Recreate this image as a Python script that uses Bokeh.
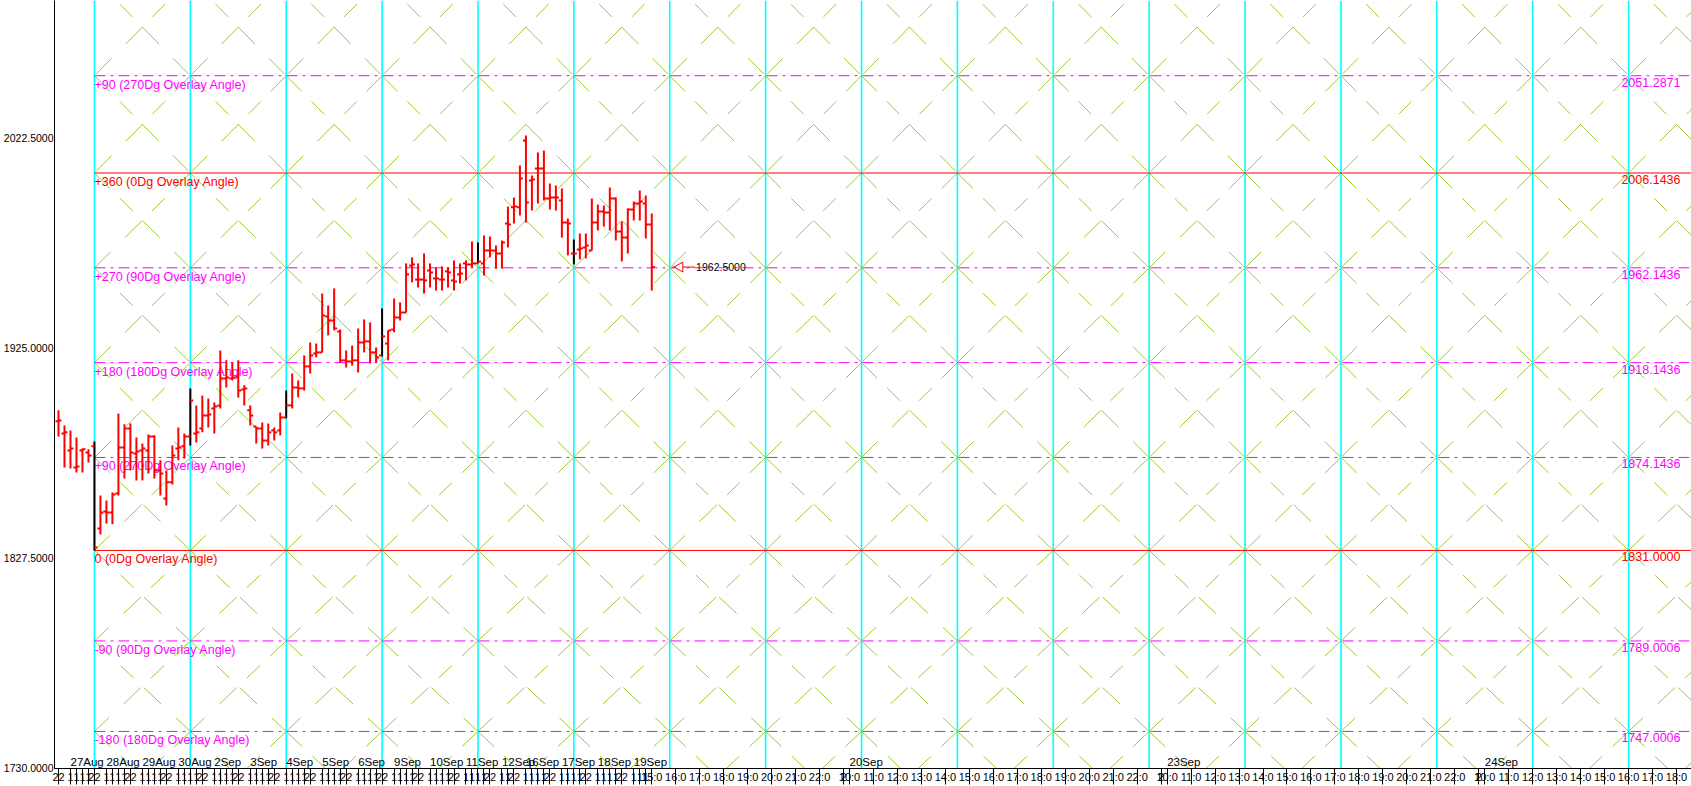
import numpy as np
from bokeh.plotting import figure
from bokeh.models import Range1d, FixedTicker, NumeralTickFormatter, AllLabels
from bokeh.core.properties import value
from bokeh.embed import file_html
from bokeh.resources import INLINE

# ---------------- data ----------------
day_labels = ["27Aug", "28Aug", "29Aug", "30Aug", "2Sep", "3Sep", "4Sep", "5Sep", "6Sep",
              "9Sep", "10Sep", "11Sep", "12Sep", "16Sep", "17Sep", "18Sep", "19Sep"]
bars_per_day = [6, 6, 6, 6, 6, 6, 6, 6, 6, 6, 6, 6, 4, 6, 6, 6, 6]
past_cell_labels = ["22", "1"]          # first (wide) cell, following narrow cells

bar_open = [1890.9, 1885.3, 1877.4, 1869.5, 1877.4, 1876.5, 1879.3, 1841.2, 1849.1, 1848.6,
            1857.4, 1878.8, 1887.6, 1876.0, 1877.4, 1877.4, 1883.9, 1868.1, 1855.1, 1862.6,
            1878.3, 1879.3, 1883.9, 1885.3, 1887.6, 1893.6, 1896.9, 1898.3, 1910.8, 1910.8,
            1911.7, 1905.7, 1896.0, 1888.5, 1887.6, 1882.0, 1886.7, 1886.7, 1892.7, 1898.3,
            1906.6, 1906.2, 1916.4, 1922.4, 1922.9, 1939.6, 1937.7, 1932.6, 1919.2, 1918.7,
            1919.2, 1927.5, 1928.0, 1922.9, 1921.5, 1927.0, 1933.5, 1939.1, 1941.4, 1963.2,
            1956.7, 1956.7, 1960.9, 1957.2, 1956.7, 1960.5, 1956.3, 1959.1, 1964.2, 1963.7,
            1964.2, 1964.2, 1970.2, 1970.2, 1968.8, 1982.7, 1990.2, 1990.2, 2021.2, 2002.7,
            2008.2, 2008.2, 1994.3, 1994.8, 1993.4, 1983.2, 1968.8, 1970.7, 1971.6, 1970.2,
            1983.2, 1988.3, 1987.8, 1994.3, 1979.0, 1976.2, 1989.2, 1992.0, 1992.0, 1982.3]
bar_high = [1896.0, 1889.0, 1886.7, 1883.4, 1878.3, 1877.9, 1881.6, 1856.5, 1854.2, 1857.9,
            1894.6, 1889.5, 1889.9, 1883.4, 1880.6, 1884.8, 1884.4, 1872.8, 1868.1, 1879.7,
            1888.1, 1885.3, 1906.2, 1898.3, 1902.9, 1901.5, 1899.7, 1923.8, 1919.2, 1918.2,
            1919.2, 1907.6, 1898.3, 1888.5, 1890.4, 1889.9, 1888.1, 1895.0, 1905.2, 1913.1,
            1909.9, 1921.5, 1927.5, 1927.0, 1950.2, 1944.7, 1952.6, 1933.5, 1923.8, 1926.1,
            1934.0, 1938.2, 1936.8, 1925.2, 1943.3, 1933.1, 1947.9, 1946.1, 1964.2, 1967.0,
            1964.2, 1968.8, 1964.2, 1962.3, 1962.8, 1962.3, 1965.6, 1964.2, 1965.6, 1974.4,
            1973.9, 1977.2, 1976.7, 1972.5, 1974.8, 1990.6, 1994.8, 2009.6, 2023.6, 2005.0,
            2015.7, 2016.6, 2001.3, 2000.4, 1999.0, 1985.0, 1975.3, 1978.1, 1978.1, 1994.3,
            1991.5, 1991.1, 1999.4, 1994.8, 1983.7, 1989.7, 1992.9, 1998.0, 1995.7, 1987.4]
bar_low = [1883.9, 1869.5, 1869.0, 1867.2, 1867.2, 1871.8, 1831.0, 1838.4, 1843.5, 1843.1,
           1856.5, 1864.4, 1868.1, 1863.5, 1863.5, 1866.7, 1864.4, 1856.5, 1851.9, 1861.6,
           1872.8, 1873.7, 1879.7, 1881.1, 1885.8, 1888.1, 1885.3, 1896.9, 1906.6, 1909.9,
           1902.0, 1898.3, 1889.0, 1880.6, 1878.3, 1879.7, 1882.0, 1884.4, 1892.3, 1896.9,
           1902.0, 1905.2, 1913.1, 1920.6, 1922.9, 1930.8, 1933.1, 1918.2, 1915.9, 1916.8,
           1913.6, 1922.9, 1917.8, 1918.2, 1921.0, 1919.2, 1932.2, 1937.7, 1941.4, 1955.4,
           1953.0, 1950.2, 1953.0, 1951.6, 1951.6, 1953.0, 1951.6, 1954.9, 1956.3, 1962.3,
           1964.2, 1958.6, 1967.0, 1961.8, 1961.8, 1971.6, 1982.7, 1986.4, 1983.2, 1988.8,
           1992.0, 1993.4, 1989.2, 1988.8, 1976.2, 1967.9, 1963.7, 1966.0, 1966.5, 1970.2,
           1979.5, 1981.3, 1979.5, 1974.8, 1965.1, 1968.8, 1984.1, 1984.1, 1975.8, 1951.6]
bar_close = [1891.3, 1885.8, 1878.3, 1870.0, 1877.9, 1875.1, 1832.4, 1848.6, 1848.6, 1857.0,
             1878.8, 1887.6, 1876.5, 1876.9, 1878.3, 1883.9, 1868.1, 1866.7, 1862.6, 1875.1,
             1878.8, 1883.9, 1900.6, 1885.8, 1893.6, 1894.1, 1897.8, 1910.8, 1911.3, 1911.3,
             1905.2, 1906.2, 1893.6, 1887.6, 1882.0, 1885.8, 1885.8, 1892.7, 1898.3, 1906.6,
             1906.2, 1916.4, 1921.5, 1922.9, 1940.0, 1937.7, 1934.0, 1919.2, 1918.7, 1919.2,
             1927.5, 1928.0, 1922.9, 1920.6, 1930.3, 1933.1, 1939.1, 1941.4, 1959.1, 1963.7,
             1956.7, 1956.3, 1960.0, 1957.2, 1956.7, 1960.0, 1955.8, 1959.5, 1963.7, 1964.2,
             1965.0, 1970.2, 1970.2, 1968.8, 1973.9, 1982.3, 1990.6, 2003.6, 1992.5, 2003.1,
             2008.2, 1994.3, 1994.8, 1994.8, 1983.2, 1982.7, 1968.8, 1971.1, 1972.5, 1983.2,
             1988.3, 1987.8, 1994.3, 1979.0, 1976.2, 1989.2, 1992.0, 1992.9, 1982.3, 1962.5]

last_price = 1962.5
last_price_text = "1962.5000"

level_values = [2051.2871, 2006.1436, 1962.1436, 1918.1436, 1874.1436, 1831.0, 1789.0006, 1747.0006]
level_names = ["+90 (270Dg Overlay Angle)", "+360 (0Dg Overlay Angle)", "+270 (90Dg Overlay Angle)",
               "+180 (180Dg Overlay Angle)", "+90 (270Dg Overlay Angle)", "0 (0Dg Overlay Angle)",
               "-90 (90Dg Overlay Angle)", "-180 (180Dg Overlay Angle)"]
level_value_text = ["2051.2871", "2006.1436", "1962.1436", "1918.1436", "1874.1436",
                    "1831.0000", "1789.0006", "1747.0006"]
level_is_main = [False, True, False, False, False, True, False, False]

y_ticks = [1730.0, 1827.5, 1925.0, 2022.5]

rest_of_day_hours = ["15:0", "16:0", "17:0", "18:0", "19:0", "20:0", "21:0", "22:0"]
session_hours = ["10:0", "11:0", "12:0", "13:0", "14:0", "15:0", "16:0", "17:0", "18:0",
                 "19:0", "20:0", "21:0", "22:0"]
night_cell_label = "2"
future_day_labels = ["20Sep", "23Sep", "24Sep"]

# ---------------- layout / style constants ----------------
FONT = "Liberation Sans"
RED = "#FF0000"
MAGENTA = "#FF00FF"
CYAN = "#00FFFF"
GREEN = "#9ACD32"
HOUR_SLOT = 4          # width of one future hour cell, in bar slots
NIGHT_SLOT = 1
CYCLE_START = 6        # first cycle line (bar slot)
CYCLE_LEN = 16         # bar slots per cycle
X_LO, X_HI = -2.0 / 3.0, 272.5
Y_LO, Y_HI = 1729.8, 2086.2

p = figure(width=1691, height=786, x_range=Range1d(X_LO, X_HI), y_range=Range1d(Y_LO, Y_HI),
           output_backend="svg", toolbar_location=None,
           min_border_left=52, min_border_right=0, min_border_top=0, min_border_bottom=18)
p.background_fill_color = "white"
p.border_fill_color = "white"
p.outline_line_color = None
p.xgrid.visible = False
p.ygrid.visible = False

# ---------------- x structure ----------------
n_bars = len(bar_close)
bar_x = np.arange(n_bars, dtype=float)
day_starts = np.concatenate([[0], np.cumsum(bars_per_day)[:-1]])
future_start = n_bars - 1

tick_pos = []
tick_lab = {}
date_x = []
date_txt = []
for lab, start, n in zip(day_labels, day_starts, bars_per_day):
    date_x.append(start + 2)
    date_txt.append(lab)
    cells = [int(start)] + [int(start) + 2 + i for i in range(n - 2)]
    for i, c in enumerate(cells):
        if c >= future_start:
            break
        tick_pos.append(c)
        tick_lab[c] = past_cell_labels[0] if i == 0 else past_cell_labels[1]

u = future_start
for h in rest_of_day_hours:
    tick_pos.append(u); tick_lab[u] = h; u += HOUR_SLOT
for d in future_day_labels:
    tick_pos.append(u); tick_lab[u] = night_cell_label; u += NIGHT_SLOT
    date_x.append(u); date_txt.append(d)
    for h in session_hours:
        tick_pos.append(u); tick_lab[u] = h; u += HOUR_SLOT

# cycle lines
cyc = np.arange(CYCLE_START, X_HI + CYCLE_LEN, CYCLE_LEN, dtype=float)

# ---------------- diamond lattice ----------------
ext = [level_values[0] + (level_values[0] - level_values[1])] + level_values + \
      [level_values[-1] - (level_values[-2] - level_values[-1])]
lx0, ly0, lx1, ly1 = [], [], [], []
for k in range(len(cyc) - 1):
    for j in range(len(ext) - 1):
        lx0 += [cyc[k], cyc[k + 1]]
        ly0 += [ext[j], ext[j]]
        lx1 += [cyc[k + 1], cyc[k]]
        ly1 += [ext[j + 1], ext[j + 1]]
p.segment(x0=lx0, y0=ly0, x1=lx1, y1=ly1, line_color=GREEN, line_width=1,
          line_dash="22 14 18 14 24 20 22")

# cyan cycle lines
p.segment(x0=cyc, y0=[Y_LO] * len(cyc), x1=cyc, y1=[Y_HI] * len(cyc),
          line_color=CYAN, line_width=1.6)

# level lines
for val, main in zip(level_values, level_is_main):
    p.segment(x0=[cyc[0]], y0=[val], x1=[X_HI + 10], y1=[val],
              line_color=RED if main else MAGENTA, line_width=1,
              line_dash="solid" if main else "11 5 3 5")

lvl_colors = [RED if m else MAGENTA for m in level_is_main]
p.text(x=[cyc[0]] * len(level_values), y=level_values, text=level_names,
       text_color=lvl_colors, text_font=value(FONT), text_font_size="12.5px",
       text_baseline="top", text_align="left", x_offset=0, y_offset=2)
p.text(x=[X_HI] * len(level_values), y=level_values, text=level_value_text,
       text_color=lvl_colors, text_font=value(FONT), text_font_size="12.5px",
       text_baseline="top", text_align="right", x_offset=-11, y_offset=2)

# ---------------- OHLC bars ----------------
is_cycle = ((bar_x - CYCLE_START) % CYCLE_LEN == 0) & (bar_x >= CYCLE_START)
body_colors = ["black" if c else RED for c in is_cycle]
p.segment(x0=bar_x, y0=bar_low, x1=bar_x, y1=bar_high, line_color=body_colors, line_width=2)
p.segment(x0=bar_x - 0.5, y0=bar_open, x1=bar_x, y1=bar_open, line_color=RED, line_width=2)
p.segment(x0=bar_x, y0=bar_close, x1=bar_x + 0.5, y1=bar_close, line_color=RED, line_width=2)

# last price marker
lx = bar_x[-1]
p.segment(x0=[lx + 3.4], y0=[last_price], x1=[lx + 7.2], y1=[last_price], line_color=RED, line_width=1)
p.scatter(x=[lx + 4.7], y=[last_price], marker="triangle", size=10, angle=np.pi / 2,
          fill_color="white", line_color=RED, line_width=1)
p.text(x=[lx + 7.4], y=[last_price], text=[last_price_text], text_color="black",
       text_font=value(FONT), text_font_size="10.5px", text_baseline="middle", text_align="left")

# date labels at bottom of plot area
p.text(x=date_x, y=[Y_LO] * len(date_x), text=date_txt, text_color="black",
       text_font=value(FONT), text_font_size="11.5px", text_baseline="bottom",
       text_align="left", y_offset=-1)

# ---------------- axes ----------------
ya = p.yaxis[0]
ya.ticker = FixedTicker(ticks=y_ticks)
ya.formatter = NumeralTickFormatter(format="0.0000")
ya.major_tick_out = 0
ya.major_tick_in = 0
ya.minor_tick_out = 0
ya.minor_tick_in = 0
ya.major_label_standoff = 1
ya.major_label_text_font = FONT
ya.major_label_text_font_size = "10.5px"
ya.major_label_text_color = "black"
ya.axis_line_color = "black"

xa = p.xaxis[0]
xa.ticker = FixedTicker(ticks=tick_pos)
xa.major_label_overrides = tick_lab
xa.major_label_policy = AllLabels()
xa.major_tick_out = 16
xa.major_tick_in = 0
xa.minor_tick_out = 0
xa.minor_tick_in = 0
xa.major_tick_line_color = "black"
xa.major_label_standoff = -14
xa.major_label_text_align = "left"
xa.major_label_text_font = FONT
xa.major_label_text_font_size = "11px"
xa.major_label_text_color = "black"
xa.axis_line_color = "black"

open("out.html", "w").write(file_html(p, INLINE))
